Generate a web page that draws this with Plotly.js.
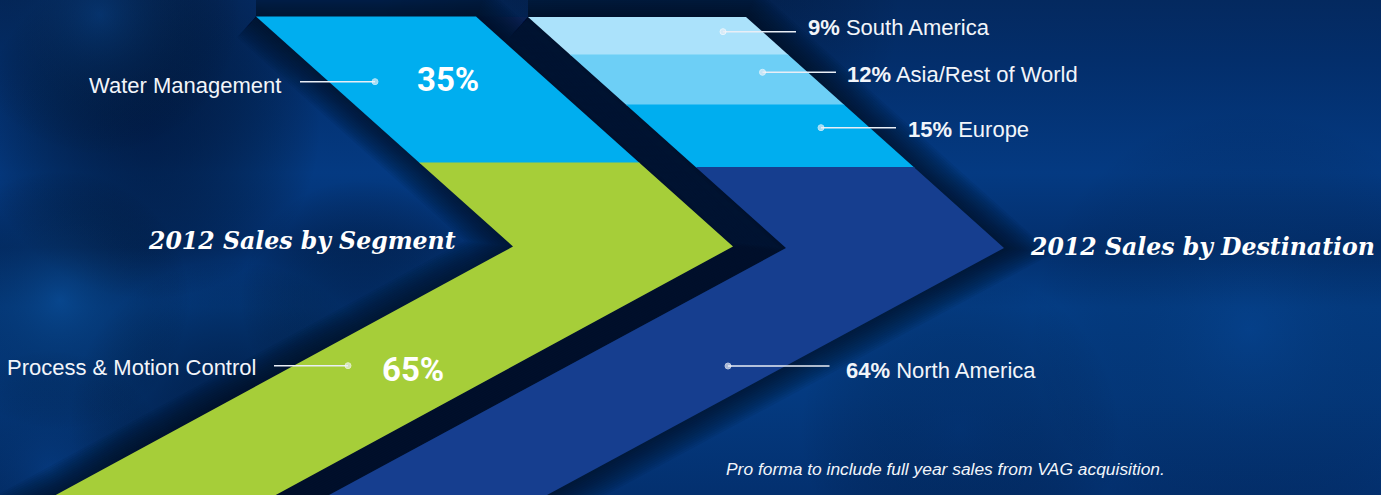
<!DOCTYPE html>
<html><head><meta charset="utf-8">
<script src="https://cdn.plot.ly/plotly-3.0.1.min.js"></script>
<style>html,body{margin:0;padding:0;background:#03367c;overflow:hidden}</style>
</head><body><div id="chart" style="width:1381px;height:495px"></div>
<script>
// ---------- data ----------
const segments = ['Water Management', 'Process & Motion Control'];
const segmentShares = [35, 65];
const destinations = ['South America', 'Asia/Rest of World', 'Europe', 'North America'];
const destinationShares = [9, 12, 15, 64];
const titles = ['2012 Sales by Segment', '2012 Sales by Destination'];
const footnote = 'Pro forma to include full year sales from VAG acquisition.';

// ---------- styles / layout constants ----------
const segmentColors = ['#00aeef', '#a6ce39'];
const destinationColors = ['#abe2fb', '#6dcff6', '#00aeef', '#163e8f'];
const W = 1381, H = 495;
const PX_PER_PCT = 4.17;
const BOTTOM = 560;
const chevL = {x0: 256, y0: 16.5, tipY: 246.5, tipX: 513, width: 220, lower: 1.84};
const chevR = {x0: 528, y0: 17, tipY: 248, tipX: 786, width: 218, lower: 1.85};

// label placement (pixel space)
const segLabelPos = [
  {textX: 283, textY: 85, lineX0: 300, lineX1: 375, lineY: 81.7, pctX: 448, pctY: 79.5},
  {textX: 258, textY: 367, lineX0: 274, lineX1: 348, lineY: 365.7, pctX: 413, pctY: 369}
];
const destLabelPos = [
  {dotX: 723, lineX1: 796, lineY: 31.7, textX: 806, textY: 27.5},
  {dotX: 762.5, lineX1: 836, lineY: 72.3, textX: 845, textY: 74},
  {dotX: 821, lineX1: 896, lineY: 127.7, textX: 906, textY: 129},
  {dotX: 728, lineX1: 829.5, lineY: 366, textX: 844, textY: 370}
];

// ---------- geometry helpers ----------
function xL(c, y) {
  return y <= c.tipY ? c.x0 + (c.tipX - c.x0) * (y - c.y0) / (c.tipY - c.y0)
                     : c.tipX - c.lower * (y - c.tipY);
}
function band(c, y1, y2) {
  const xs = [], ys = [];
  xs.push(xL(c, y1), xL(c, y1) + c.width); ys.push(y1, y1);
  const tipIn = c.tipY > y1 && c.tipY < y2;
  if (tipIn) { xs.push(c.tipX + c.width); ys.push(c.tipY); }
  xs.push(xL(c, y2) + c.width, xL(c, y2)); ys.push(y2, y2);
  if (tipIn) { xs.push(c.tipX); ys.push(c.tipY); }
  xs.push(xs[0]); ys.push(ys[0]);
  return {xs, ys};
}
function outline(c) {
  return {
    xs: [c.x0, c.x0 + c.width, c.tipX + c.width, xL(c, BOTTOM) + c.width, xL(c, BOTTOM), c.tipX, c.x0],
    ys: [c.y0, c.y0, c.tipY, BOTTOM, BOTTOM, c.tipY, c.y0]
  };
}
function bandsFor(c, shares, colors, names) {
  const out = [];
  let cum = 0;
  shares.forEach((s, i) => {
    const y1 = c.y0 + cum * PX_PER_PCT;
    cum += s;
    // overlap 1px into the next band to avoid anti-aliasing seams
    const y2 = i === shares.length - 1 ? BOTTOM : c.y0 + cum * PX_PER_PCT + 1;
    const b = band(c, y1, y2);
    out.push({type: 'scatter', mode: 'lines', x: b.xs, y: b.ys, fill: 'toself',
      fillcolor: colors[i], line: {width: 0, color: colors[i]}, hoverinfo: 'skip', name: names[i]});
  });
  return out;
}

// ---------- background image ----------
function makeBackground() {
  const cv = document.createElement('canvas');
  cv.width = W; cv.height = H;
  const g = cv.getContext('2d');
  const lg = g.createLinearGradient(0, 0, 0, H);
  lg.addColorStop(0, '#04295f');
  lg.addColorStop(0.12, '#032e6b');
  lg.addColorStop(0.35, '#043a82');
  lg.addColorStop(0.5, '#032f6d');
  lg.addColorStop(0.62, '#043e87');
  lg.addColorStop(0.8, '#043a80');
  lg.addColorStop(1, '#03306f');
  g.fillStyle = lg; g.fillRect(0, 0, W, H);
  function blob(x, y, r, col) {
    const rg = g.createRadialGradient(x, y, 0, x, y, r);
    rg.addColorStop(0, col); rg.addColorStop(1, 'rgba(0,0,0,0)');
    g.fillStyle = rg; g.fillRect(x - r, y - r, 2 * r, 2 * r);
  }
  blob(150, 130, 170, 'rgba(1,22,60,0.75)');
  blob(230, 420, 160, 'rgba(1,22,60,0.7)');
  blob(60, 300, 130, 'rgba(12,80,150,0.5)');
  blob(100, 15, 140, 'rgba(10,70,140,0.45)');
  blob(360, 300, 120, 'rgba(1,24,62,0.5)');
  blob(50, 470, 120, 'rgba(8,64,135,0.4)');
  blob(1250, 330, 220, 'rgba(8,70,145,0.3)');
  blob(960, 430, 160, 'rgba(2,40,95,0.35)');
  blob(640, 5, 260, 'rgba(1,20,55,0.45)');
  return cv.toDataURL('image/png');
}

// ---------- traces ----------
const traces = [];
// dark gap between the chevrons
const gapX = [chevL.x0 + chevL.width, chevR.x0, chevR.tipX, xL(chevR, BOTTOM), xL(chevL, BOTTOM) + chevL.width, chevL.tipX + chevL.width, chevL.x0 + chevL.width];
const gapY = [chevL.y0, chevR.y0, chevR.tipY, BOTTOM, BOTTOM, chevL.tipY, chevL.y0];
traces.push({type: 'scatter', mode: 'lines', x: gapX, y: gapY, fill: 'toself', fillcolor: '#0a2152',
  line: {width: 0, color: '#0a2152'}, hoverinfo: 'skip'});
// soft shadows: many thin translucent strokes -> smooth falloff
[chevL, chevR].forEach(c => {
  const o = outline(c);
  for (let w = 56; w >= 4; w -= 4) {
    traces.push({type: 'scatter', mode: 'lines', x: o.xs, y: o.ys,
      line: {width: w, color: 'rgba(0,10,32,0.065)'}, hoverinfo: 'skip'});
  }
});
// chevron bands from data
traces.push(...bandsFor(chevL, segmentShares, segmentColors, segments));
traces.push(...bandsFor(chevR, destinationShares, destinationColors, destinations));

// leader lines
const leaderColor = '#e9eef6';
segLabelPos.forEach(p => {
  traces.push({type: 'scatter', mode: 'lines+markers', x: [p.lineX0, p.lineX1], y: [p.lineY, p.lineY],
    line: {color: leaderColor, width: 1.6}, marker: {size: [0, 6], color: leaderColor}, hoverinfo: 'skip'});
});
destLabelPos.forEach(p => {
  traces.push({type: 'scatter', mode: 'lines+markers', x: [p.dotX, p.lineX1], y: [p.lineY, p.lineY],
    line: {color: leaderColor, width: 1.6}, marker: {size: [6, 0], color: leaderColor}, hoverinfo: 'skip'});
});

// ---------- annotations ----------
const labelFont = {family: 'Liberation Sans, Arial, sans-serif', size: 22, color: '#f2f5fa'};
const pctFont = {family: 'Roboto, Liberation Sans, sans-serif', size: 33, color: '#ffffff', weight: 'bold'};
const titleFont = {family: 'DejaVu Serif, serif', size: 23.6, color: '#ffffff', weight: 'bold', style: 'italic'};
const annotations = [];
segments.forEach((s, i) => {
  const p = segLabelPos[i];
  annotations.push({x: p.textX, y: p.textY, text: s, xanchor: 'right', yanchor: 'middle', showarrow: false, font: labelFont});
  annotations.push({x: p.pctX, y: p.pctY, text: segmentShares[i] + '%', xanchor: 'center', yanchor: 'middle', showarrow: false, font: pctFont});
});
destinations.forEach((d, i) => {
  const p = destLabelPos[i];
  annotations.push({x: p.textX, y: p.textY, text: '<b>' + destinationShares[i] + '%</b> ' + d, xanchor: 'left', yanchor: 'middle', showarrow: false, font: labelFont});
});
annotations.push({x: 458, y: 241, text: titles[0], xanchor: 'right', yanchor: 'middle', showarrow: false, font: titleFont});
annotations.push({x: 1377, y: 247, text: titles[1], xanchor: 'right', yanchor: 'middle', showarrow: false, font: titleFont});
annotations.push({x: 724, y: 469, text: footnote, xanchor: 'left', yanchor: 'middle', showarrow: false,
  font: {family: 'Liberation Sans, Arial, sans-serif', size: 17.4, color: '#f2f5fa', style: 'italic'}});

const layout = {
  width: W, height: H,
  margin: {l: 0, r: 0, t: 0, b: 0, pad: 0},
  paper_bgcolor: '#03367c', plot_bgcolor: 'rgba(0,0,0,0)',
  showlegend: false,
  xaxis: {range: [0, W], visible: false, fixedrange: true},
  yaxis: {range: [H, 0], visible: false, fixedrange: true},
  images: [{source: makeBackground(), xref: 'paper', yref: 'paper', x: 0, y: 1, sizex: 1, sizey: 1,
    xanchor: 'left', yanchor: 'top', sizing: 'stretch', layer: 'below'}],
  annotations: annotations
};
Plotly.newPlot('chart', traces, layout, {displayModeBar: false, staticPlot: true});
</script></body></html>
